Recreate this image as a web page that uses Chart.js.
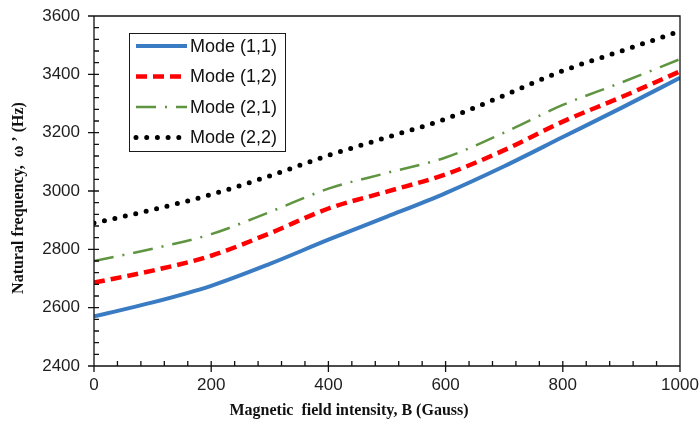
<!DOCTYPE html>
<html>
<head>
<meta charset="utf-8">
<script src="https://cdn.jsdelivr.net/npm/chart.js@4.4.0/dist/chart.umd.min.js"></script>
<style>
  body { margin: 0; background: #fff; }
</style>
</head>
<body>
<canvas id="freq" width="700" height="432"></canvas>
<script>
// magnetic field intensity B (Gauss)
const fieldB = [0, 100, 200, 300, 400, 500, 600, 700, 800, 900, 1000];
// natural frequency (Hz) for each mode
const mode11 = [2570, 2618, 2675, 2750, 2833, 2912, 2993, 3085, 3185, 3285, 3388];
const mode12 = [2686, 2727, 2778, 2855, 2940, 2998, 3057, 3140, 3238, 3322, 3410];
const mode21 = [2760, 2802, 2852, 2928, 3008, 3062, 3115, 3200, 3295, 3372, 3452];
const mode22 = [2890, 2936, 2988, 3052, 3122, 3184, 3247, 3328, 3412, 3480, 3548];
const modeNames = ['Mode (1,1)', 'Mode (1,2)', 'Mode (2,1)', 'Mode (2,2)'];
const xTicks = [0, 200, 400, 600, 800, 1000];
const yTicks = [2400, 2600, 2800, 3000, 3200, 3400, 3600];
const xTitle = 'Magnetic  field intensity, B (Gauss)';
const yTitle = 'Natural frequency,  \u03C9 \u2019 (Hz)';

const toPoints = vals => vals.map((v, i) => ({ x: fieldB[i], y: v }));

const styles = [
  { borderColor: '#3a7cc3', borderWidth: 4, borderDash: [], borderCapStyle: 'butt' },
  { borderColor: '#ff0000', borderWidth: 4.5, borderDash: [11, 6], borderCapStyle: 'butt' },
  { borderColor: '#5f9440', borderWidth: 2.5, borderDash: [20, 9, 2, 9], borderCapStyle: 'butt' },
  { borderColor: '#000000', borderWidth: 5, borderDash: [0, 10.7], borderCapStyle: 'round' }
];

const allModes = [mode11, mode12, mode21, mode22];
const datasets = allModes.map((vals, i) => Object.assign({
  label: modeNames[i],
  data: toPoints(vals),
  fill: false,
  pointRadius: 0,
  tension: 0.4,
  cubicInterpolationMode: 'monotone'
}, styles[i]));

const tickFont = { family: "'Liberation Sans', Arial, sans-serif", size: 17 };
const textColor = '#1e1e1e';

function drawFrame(chart) {
  const ctx = chart.ctx;
  const a = chart.chartArea;
  const xs = chart.scales.x, ys = chart.scales.y;
  const L = Math.round(a.left), R = Math.round(a.right);
  const T = Math.round(a.top), B = Math.round(a.bottom);
  ctx.save();
  ctx.strokeStyle = '#111';
  ctx.lineWidth = 1.3;
  ctx.setLineDash([]);
  ctx.beginPath();
  ctx.moveTo(L, T); ctx.lineTo(R, T); ctx.lineTo(R, B); ctx.lineTo(L, B); ctx.closePath();
  // major ticks cross the axis, minor ticks point inwards
  const xMajor = xTicks[1] - xTicks[0];
  for (let v = xTicks[0]; v <= xTicks[xTicks.length - 1]; v += xMajor / 5) {
    const px = xs.getPixelForValue(v);
    ctx.moveTo(px, B - 5);
    ctx.lineTo(px, v % xMajor === 0 ? B + 6 : B);
  }
  const yMajor = yTicks[1] - yTicks[0];
  for (let v = yTicks[0]; v <= yTicks[yTicks.length - 1]; v += yMajor / 5) {
    const py = ys.getPixelForValue(v);
    const major = (v - yTicks[0]) % yMajor === 0;
    ctx.moveTo(major ? L - 6 : L, py);
    ctx.lineTo(L + 5, py);
  }
  ctx.stroke();
  ctx.restore();
}

function drawLegend(chart) {
  const { ctx, chartArea: a } = chart;
  const left = a.left + 35, top = a.top + 17, w = 156, h = 118;
  ctx.save();
  ctx.fillStyle = '#fff';
  ctx.fillRect(left, top, w, h);
  ctx.strokeStyle = '#1a1a1a';
  ctx.lineWidth = 1;
  ctx.strokeRect(left + 0.5, top + 0.5, w, h);
  ctx.font = "18px 'Liberation Sans', Arial, sans-serif";
  ctx.textBaseline = 'middle';
  chart.data.datasets.forEach((ds, i) => {
    const rowY = top + 13 + i * 30.5;
    ctx.beginPath();
    ctx.strokeStyle = ds.borderColor;
    ctx.lineWidth = ds.borderWidth;
    ctx.setLineDash(ds.borderDash);
    ctx.lineCap = ds.borderCapStyle;
    ctx.moveTo(left + 7, rowY);
    ctx.lineTo(left + 58, rowY);
    ctx.stroke();
    ctx.setLineDash([]);
    ctx.fillStyle = '#111';
    ctx.fillText(ds.label, left + 61, rowY + 1);
  });
  ctx.restore();
}

function drawTitles(chart) {
  const { ctx } = chart;
  ctx.save();
  ctx.fillStyle = '#111';
  ctx.font = "bold 16px 'Liberation Serif', 'Times New Roman', serif";
  ctx.textAlign = 'center';
  ctx.textBaseline = 'middle';
  ctx.fillText(xTitle, 349, 411);
  ctx.translate(19, 198);
  ctx.rotate(-Math.PI / 2);
  ctx.fillText(yTitle, 0, 0);
  ctx.restore();
}

const decor = {
  id: 'decor',
  afterDraw(chart) {
    drawLegend(chart);
    drawTitles(chart);
    drawFrame(chart);
  }
};

new Chart(document.getElementById('freq'), {
  type: 'line',
  data: { datasets: datasets },
  options: {
    responsive: false,
    animation: false,
    layout: { padding: { top: 16, right: 20, left: 0, bottom: 0 } },
    plugins: { legend: { display: false }, tooltip: { enabled: false } },
    scales: {
      x: {
        type: 'linear',
        min: xTicks[0],
        max: xTicks[xTicks.length - 1],
        ticks: { stepSize: xTicks[1] - xTicks[0], padding: 9, font: tickFont, color: textColor, maxRotation: 0, callback: v => String(v) },
        grid: { display: false, drawTicks: false },
        border: { display: false },
        afterFit(scale) {
          scale.height = 66;
          scale.paddingLeft = 0;
          scale.paddingRight = 0;
        }
      },
      y: {
        min: yTicks[0],
        max: yTicks[yTicks.length - 1],
        ticks: { stepSize: yTicks[1] - yTicks[0], padding: 14, font: tickFont, color: textColor, callback: v => String(v) },
        grid: { display: false, drawTicks: false },
        border: { display: false },
        afterFit(scale) {
          scale.width = 94;
          scale.paddingTop = 0;
          scale.paddingBottom = 0;
        }
      }
    }
  },
  plugins: [decor]
});
</script>
</body>
</html>
